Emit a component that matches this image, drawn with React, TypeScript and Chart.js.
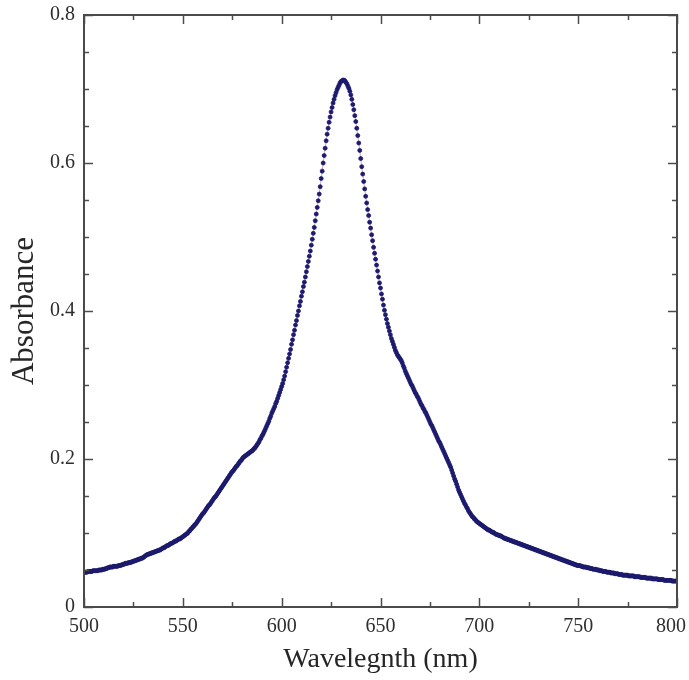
import React, { useEffect, useRef } from "react";
import { Chart, registerables } from "chart.js";

Chart.register(...registerables);

// Wavelength grid: 500 nm to 800 nm, one reading every 0.5 nm
const WAVELENGTH_START = 500;
const WAVELENGTH_STEP = 0.5;

// Absorbance readings (one per 0.5 nm, 500.0 ... 800.0)
const absorbance: number[] = [
  0.047, 0.047, 0.047, 0.047, 0.048, 0.048, 0.048, 0.048, 0.048, 0.049, // 500
  0.049, 0.049, 0.049, 0.049, 0.049, 0.050, 0.050, 0.050, 0.050, 0.051, // 505
  0.051, 0.051, 0.052, 0.052, 0.053, 0.053, 0.054, 0.054, 0.054, 0.054, // 510
  0.055, 0.055, 0.055, 0.055, 0.055, 0.056, 0.056, 0.056, 0.057, 0.057, // 515
  0.058, 0.058, 0.059, 0.059, 0.059, 0.060, 0.060, 0.060, 0.061, 0.061, // 520
  0.062, 0.062, 0.063, 0.063, 0.064, 0.064, 0.065, 0.065, 0.066, 0.066, // 525
  0.067, 0.068, 0.069, 0.070, 0.071, 0.071, 0.072, 0.072, 0.073, 0.073, // 530
  0.074, 0.074, 0.075, 0.075, 0.076, 0.076, 0.077, 0.077, 0.078, 0.079, // 535
  0.080, 0.080, 0.081, 0.082, 0.083, 0.083, 0.084, 0.085, 0.086, 0.086, // 540
  0.087, 0.088, 0.089, 0.089, 0.090, 0.091, 0.092, 0.092, 0.093, 0.094, // 545
  0.095, 0.096, 0.097, 0.098, 0.099, 0.100, 0.102, 0.103, 0.105, 0.106, // 550
  0.108, 0.109, 0.111, 0.112, 0.114, 0.116, 0.118, 0.120, 0.122, 0.124, // 555
  0.126, 0.127, 0.129, 0.131, 0.133, 0.135, 0.137, 0.138, 0.140, 0.142, // 560
  0.144, 0.146, 0.148, 0.149, 0.151, 0.153, 0.155, 0.157, 0.159, 0.161, // 565
  0.163, 0.165, 0.167, 0.169, 0.171, 0.173, 0.175, 0.177, 0.179, 0.181, // 570
  0.183, 0.184, 0.186, 0.188, 0.190, 0.191, 0.193, 0.195, 0.197, 0.198, // 575
  0.200, 0.202, 0.203, 0.204, 0.205, 0.206, 0.207, 0.208, 0.209, 0.210, // 580
  0.211, 0.212, 0.214, 0.215, 0.217, 0.219, 0.221, 0.223, 0.226, 0.228, // 585
  0.231, 0.233, 0.236, 0.239, 0.242, 0.245, 0.248, 0.251, 0.255, 0.258, // 590
  0.262, 0.265, 0.268, 0.271, 0.275, 0.278, 0.282, 0.286, 0.290, 0.294, // 595
  0.298, 0.302, 0.307, 0.312, 0.318, 0.324, 0.330, 0.336, 0.342, 0.348, // 600
  0.355, 0.361, 0.368, 0.374, 0.381, 0.387, 0.394, 0.400, 0.407, 0.413, // 605
  0.420, 0.426, 0.433, 0.439, 0.446, 0.453, 0.460, 0.467, 0.474, 0.481, // 610
  0.489, 0.497, 0.505, 0.513, 0.522, 0.531, 0.540, 0.549, 0.558, 0.568, // 615
  0.579, 0.589, 0.600, 0.610, 0.620, 0.630, 0.639, 0.647, 0.655, 0.662, // 620
  0.669, 0.675, 0.681, 0.686, 0.691, 0.695, 0.699, 0.702, 0.705, 0.708, // 625
  0.710, 0.711, 0.712, 0.712, 0.711, 0.709, 0.707, 0.704, 0.701, 0.697, // 630
  0.692, 0.686, 0.679, 0.672, 0.664, 0.656, 0.647, 0.637, 0.627, 0.617, // 635
  0.606, 0.595, 0.585, 0.575, 0.565, 0.555, 0.546, 0.537, 0.529, 0.520, // 640
  0.512, 0.503, 0.495, 0.486, 0.478, 0.470, 0.462, 0.454, 0.446, 0.438, // 645
  0.431, 0.423, 0.416, 0.408, 0.401, 0.395, 0.389, 0.383, 0.378, 0.373, // 650
  0.368, 0.363, 0.359, 0.355, 0.351, 0.347, 0.344, 0.341, 0.339, 0.337, // 655
  0.335, 0.333, 0.330, 0.326, 0.323, 0.319, 0.316, 0.313, 0.310, 0.307, // 660
  0.304, 0.301, 0.299, 0.296, 0.293, 0.290, 0.288, 0.285, 0.283, 0.280, // 665
  0.277, 0.274, 0.272, 0.269, 0.267, 0.264, 0.262, 0.259, 0.256, 0.253, // 670
  0.250, 0.247, 0.245, 0.242, 0.239, 0.236, 0.233, 0.230, 0.227, 0.224, // 675
  0.222, 0.219, 0.216, 0.213, 0.210, 0.207, 0.204, 0.201, 0.198, 0.195, // 680
  0.192, 0.189, 0.185, 0.181, 0.177, 0.173, 0.170, 0.166, 0.162, 0.158, // 685
  0.155, 0.152, 0.149, 0.146, 0.143, 0.140, 0.138, 0.135, 0.133, 0.130, // 690
  0.128, 0.126, 0.124, 0.122, 0.121, 0.119, 0.118, 0.116, 0.115, 0.114, // 695
  0.113, 0.112, 0.111, 0.110, 0.109, 0.108, 0.107, 0.106, 0.105, 0.104, // 700
  0.104, 0.103, 0.102, 0.101, 0.101, 0.100, 0.099, 0.098, 0.098, 0.097, // 705
  0.097, 0.096, 0.096, 0.095, 0.094, 0.093, 0.093, 0.092, 0.092, 0.091, // 710
  0.091, 0.090, 0.090, 0.089, 0.089, 0.088, 0.088, 0.087, 0.087, 0.086, // 715
  0.086, 0.085, 0.085, 0.084, 0.084, 0.083, 0.083, 0.082, 0.082, 0.081, // 720
  0.081, 0.080, 0.080, 0.079, 0.079, 0.078, 0.078, 0.077, 0.077, 0.076, // 725
  0.076, 0.075, 0.075, 0.074, 0.074, 0.073, 0.073, 0.072, 0.072, 0.071, // 730
  0.071, 0.070, 0.070, 0.069, 0.069, 0.068, 0.068, 0.067, 0.067, 0.066, // 735
  0.066, 0.065, 0.065, 0.064, 0.064, 0.063, 0.063, 0.062, 0.062, 0.061, // 740
  0.061, 0.060, 0.060, 0.059, 0.059, 0.058, 0.058, 0.057, 0.057, 0.056, // 745
  0.056, 0.056, 0.056, 0.055, 0.055, 0.054, 0.054, 0.054, 0.054, 0.053, // 750
  0.053, 0.053, 0.052, 0.052, 0.052, 0.051, 0.051, 0.051, 0.051, 0.050, // 755
  0.050, 0.050, 0.049, 0.049, 0.049, 0.048, 0.048, 0.048, 0.048, 0.047, // 760
  0.047, 0.047, 0.047, 0.046, 0.046, 0.046, 0.046, 0.045, 0.045, 0.045, // 765
  0.045, 0.044, 0.044, 0.044, 0.044, 0.043, 0.043, 0.043, 0.043, 0.043, // 770
  0.043, 0.042, 0.042, 0.042, 0.042, 0.042, 0.042, 0.041, 0.041, 0.041, // 775
  0.041, 0.041, 0.041, 0.040, 0.040, 0.040, 0.040, 0.040, 0.040, 0.039, // 780
  0.039, 0.039, 0.039, 0.039, 0.039, 0.038, 0.038, 0.038, 0.038, 0.038, // 785
  0.038, 0.037, 0.037, 0.037, 0.037, 0.037, 0.037, 0.036, 0.036, 0.036, // 790
  0.036, 0.036, 0.036, 0.036, 0.036, 0.035, 0.035, 0.035, 0.035, 0.035, // 795
  0.035, // 800
];

// Axis ranges and tick spacing
const X_MIN = 500;
const X_MAX = 800;
const X_LABEL_STEP = 50;
const X_MINOR_STEP = 25;
const Y_MIN = 0;
const Y_MAX = 0.8;
const Y_LABEL_STEP = 0.2;
const Y_MINOR_STEP = 0.05;

const X_TITLE = "Wavelegnth (nm)";
const Y_TITLE = "Absorbance";

const SERIF = "'Liberation Serif', 'Times New Roman', serif";
const TICK_FONT_SIZE = 20;
const TEXT_COLOR = "#2e2e2e";
const CANVAS_W = 689;
const CANVAS_H = 680;

const frameTicksPlugin = {
  id: "frameTicks",
  afterDatasetsDraw(chart: any) {
    const { ctx, chartArea, scales } = chart;
    const { left, right, top, bottom } = chartArea;
    const xs = scales.x;
    const ys = scales.y;
    ctx.save();
    ctx.strokeStyle = "#4d4d4d";
    ctx.lineWidth = 1.5;
    ctx.beginPath();
    const nX = Math.round((X_MAX - X_MIN) / X_MINOR_STEP);
    for (let k = 0; k <= nX; k++) {
      const v = X_MIN + k * X_MINOR_STEP;
      const px = Math.round(xs.getPixelForValue(v)) + 0.5;
      const major = Math.abs(v % X_LABEL_STEP) < 1e-6;
      const len = major ? 9 : 5;
      ctx.moveTo(px, bottom);
      ctx.lineTo(px, bottom - len);
      ctx.moveTo(px, top);
      ctx.lineTo(px, top + len);
    }
    const nY = Math.round((Y_MAX - Y_MIN) / Y_MINOR_STEP);
    const perMajor = Math.round(Y_LABEL_STEP / Y_MINOR_STEP);
    for (let k = 0; k <= nY; k++) {
      const v = Y_MIN + k * Y_MINOR_STEP;
      const py = Math.round(ys.getPixelForValue(v)) + 0.5;
      const len = k % perMajor === 0 ? 9 : 5;
      ctx.moveTo(left, py);
      ctx.lineTo(left + len, py);
      ctx.moveTo(right, py);
      ctx.lineTo(right - len, py);
    }
    ctx.stroke();
    ctx.lineWidth = 2;
    ctx.strokeStyle = "#4a4a4a";
    ctx.strokeRect(left, top, right - left, bottom - top);

    // x tick labels, kept inside the canvas at the right edge
    ctx.fillStyle = TEXT_COLOR;
    ctx.font = `${TICK_FONT_SIZE}px ${SERIF}`;
    ctx.textAlign = "center";
    ctx.textBaseline = "middle";
    for (const t of xs.ticks) {
      const label = String(t.value);
      const w = ctx.measureText(label).width;
      let cx = xs.getPixelForValue(t.value);
      if (cx + w / 2 > CANVAS_W - 3) cx = CANVAS_W - 3 - w / 2;
      ctx.fillText(label, cx, bottom + 8 + TICK_FONT_SIZE * 0.6);
    }
    ctx.restore();
  },
};

export default function App() {
  const canvasRef = useRef<HTMLCanvasElement | null>(null);

  useEffect(() => {
    const canvas = canvasRef.current;
    if (!canvas) return;
    const points = absorbance.map((a, i) => ({
      x: WAVELENGTH_START + i * WAVELENGTH_STEP,
      y: a,
    }));
    const chart = new Chart(canvas, {
      type: "line",
      data: {
        datasets: [
          {
            data: points,
            borderColor: "rgba(190, 140, 155, 0.75)",
            borderWidth: 1,
            pointRadius: 2,
            pointBorderWidth: 0.8,
            pointBackgroundColor: "#1c1b6d",
            pointBorderColor: "#1c1b6d",
            tension: 0,
            fill: false,
          },
        ],
      },
      options: {
        responsive: false,
        animation: false,
        devicePixelRatio: 1,
        layout: { padding: { top: 15, right: 12, left: 0, bottom: 0 } },
        plugins: {
          legend: { display: false },
          tooltip: { enabled: false },
        },
        scales: {
          x: {
            type: "linear",
            min: X_MIN,
            max: X_MAX,
            grid: { display: false, drawTicks: false },
            border: { display: false },
            ticks: {
              stepSize: X_LABEL_STEP,
              display: false,
            },
            title: {
              display: true,
              text: X_TITLE,
              color: "#262626",
              font: { family: SERIF, size: 28 },
              padding: { top: 0, bottom: 4 },
            },
            afterFit(scale: any) {
              scale.height = 73;
              scale.paddingLeft = 0;
              scale.paddingRight = 0;
            },
          },
          y: {
            type: "linear",
            min: Y_MIN,
            max: Y_MAX,
            grid: { display: false, drawTicks: false },
            border: { display: false },
            ticks: {
              stepSize: Y_LABEL_STEP,
              padding: 9,
              color: TEXT_COLOR,
              font: { family: SERIF, size: TICK_FONT_SIZE },
              callback: (v: any) => (Number(v) === 0 ? "0" : Number(v).toFixed(1)),
            },
            title: {
              display: true,
              text: Y_TITLE,
              color: "#262626",
              font: { family: SERIF, size: 31 },
              padding: { top: 6, bottom: 0 },
            },
            afterFit(scale: any) {
              scale.width = 84;
              scale.paddingTop = 0;
              scale.paddingBottom = 0;
            },
          },
        },
      },
      plugins: [frameTicksPlugin],
    });
    return () => chart.destroy();
  }, []);

  return (
    <div
      style={{
        position: "absolute",
        left: 0,
        top: 0,
        width: CANVAS_W,
        height: CANVAS_H,
        background: "#ffffff",
      }}
    >
      <canvas
        ref={canvasRef}
        width={CANVAS_W}
        height={CANVAS_H}
        style={{ display: "block", width: CANVAS_W, height: CANVAS_H }}
      />
    </div>
  );
}
